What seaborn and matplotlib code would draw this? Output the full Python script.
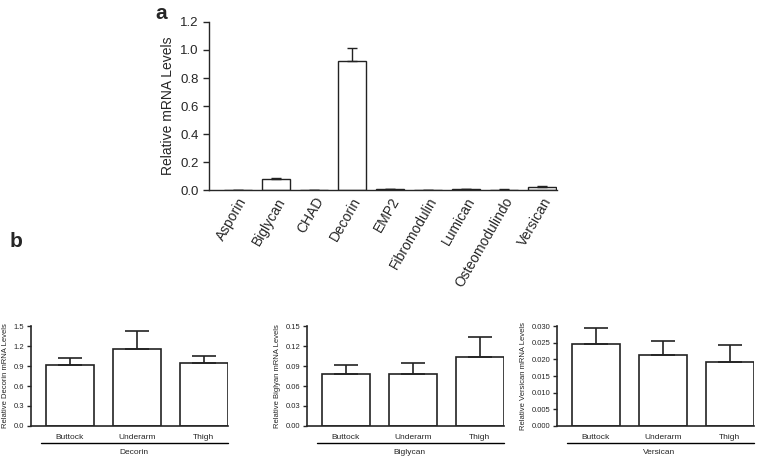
import numpy as np
import pandas as pd
import matplotlib.pyplot as plt
import seaborn as sns

# panel a: relative mRNA levels per proteoglycan
genes = ["Asporin", "Biglycan", "CHAD", "Decorin", "EMP2", "Fibromodulin",
         "Lumican", "Osteomodulindo", "Versican"]
gene_mean = [0.003, 0.080, 0.002, 0.920, 0.005, 0.002, 0.006, 0.004, 0.024]
gene_err = [0.001, 0.008, 0.001, 0.095, 0.002, 0.001, 0.003, 0.001, 0.006]

# panel b: by body site
sites = ["Buttock", "Underarm", "Thigh"]
decorin_mean = [0.92, 1.15, 0.94]
decorin_err = [0.10, 0.28, 0.11]
biglycan_mean = [0.078, 0.078, 0.104]
biglycan_err = [0.014, 0.016, 0.030]
versican_mean = [0.0245, 0.0214, 0.0193]
versican_err = [0.0048, 0.0041, 0.0049]

sns.set_style("ticks")
plt.rcParams["font.family"] = ["Liberation Sans", "DejaVu Sans"]

fig = plt.figure(figsize=(7.6, 4.58), dpi=100)


def bar_panel(ax, cats, means, errs, lw, cap, capw):
    df = pd.DataFrame({"cat": cats, "val": means})
    sns.barplot(data=df, x="cat", y="val", ax=ax, color="white",
                edgecolor="#222222", linewidth=lw, width=0.72, errorbar=None)
    ax.errorbar(np.arange(len(cats)), means,
                yerr=[np.zeros(len(errs)), errs], fmt="none",
                ecolor="#222222", elinewidth=lw, capsize=cap, capthick=capw)
    for s in ["top", "right"]:
        ax.spines[s].set_visible(False)
    ax.spines["left"].set_linewidth(lw)
    ax.spines["bottom"].set_linewidth(lw)
    ax.tick_params(axis="x", length=0)
    ax.set_xlabel("")


# panel a
ax_a = fig.add_axes([0.275, 0.585, 0.458, 0.367])
bar_panel(ax_a, genes, gene_mean, gene_err, 1.0, 3.6, 1.0)
ax_a.set_xlim(-0.76, 8.4)
ax_a.set_ylim(0, 1.2)
ax_a.set_yticks(np.arange(0, 1.21, 0.2))
ax_a.set_yticklabels([f"{v:.1f}" for v in np.arange(0, 1.21, 0.2)])
ax_a.tick_params(axis="y", labelsize=9.5, length=4, width=1)
ax_a.set_xticks(range(len(genes)))
ax_a.set_xticklabels(genes, rotation=60, ha="right", rotation_mode="anchor",
                     fontsize=10)
ax_a.set_ylabel("Relative mRNA Levels", fontsize=10)
fig.text(0.205, 0.97, "a", fontsize=15, fontweight="bold", va="center")

# panel b
b_sets = [
    ("Decorin", decorin_mean, decorin_err, np.arange(0, 1.51, 0.3), "{:.1f}", 0.041),
    ("Biglycan", biglycan_mean, biglycan_err, np.arange(0, 0.151, 0.03), "{:.2f}", 0.404),
    ("Versican", versican_mean, versican_err, np.arange(0, 0.0301, 0.005), "{:.3f}", 0.733),
]
ylabels = ["Relative Decorin mRNA Levels", "Relative Biglyan mRNA Levels",
           "Relative Versican mRNA Levels"]

for (name, means, errs, ticks, fmt, left), ylab in zip(b_sets, ylabels):
    ax = fig.add_axes([left, 0.07, 0.259, 0.218])
    bar_panel(ax, sites, means, errs, 1.2, 8.3, 1.2)
    ax.set_xlim(-0.58, 2.36)
    ax.set_ylim(0, ticks[-1])
    ax.set_yticks(ticks)
    ax.set_yticklabels([fmt.format(t) for t in ticks])
    ax.tick_params(axis="y", labelsize=5.5, length=3, width=1, pad=2)
    ax.tick_params(axis="x", labelsize=6, pad=6)
    ax.set_ylabel(ylab, fontsize=5.5, labelpad=3)
    # group underline and label
    ax.plot([0.05, 1.0], [-0.17, -0.17], transform=ax.transAxes,
            color="black", lw=1.0, clip_on=False)
    ax.text(0.52, -0.27, name, transform=ax.transAxes, ha="center",
            va="center", fontsize=6)

fig.text(0.013, 0.472, "b", fontsize=15, fontweight="bold", va="center")

fig.savefig("out.png", dpi=100)
